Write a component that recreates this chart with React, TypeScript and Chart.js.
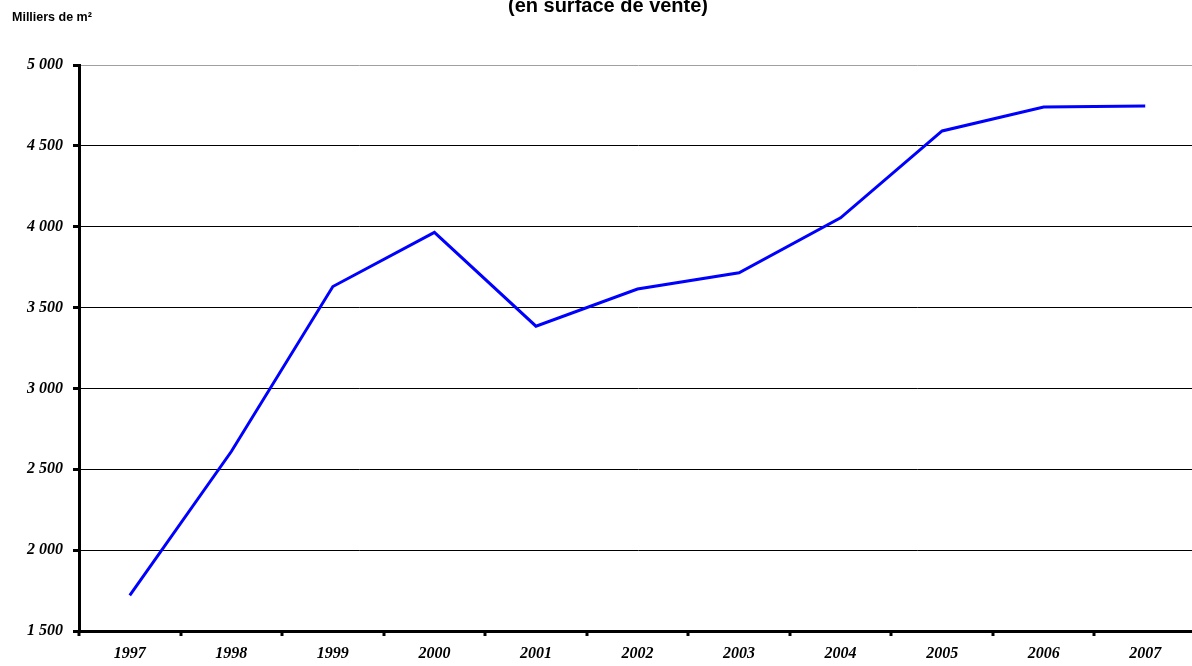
import React, { useEffect, useRef } from "react";
import { Chart, registerables } from "chart.js";

Chart.register(...registerables);

const years = ["1997", "1998", "1999", "2000", "2001", "2002", "2003", "2004", "2005", "2006", "2007"];
const surfaces = [1720, 2610, 3630, 3965, 3385, 3615, 3715, 4055, 4592, 4740, 4746];
const titleText = "(en surface de vente)";
const unitText = "Milliers de m²";
const yMin = 1500;
const yMax = 5000;
const yStep = 500;

const fmt = (v: number) => String(v).replace(/\B(?=(\d{3})+(?!\d))/g, " ");

const textPlugin = {
  id: "texts",
  afterDraw(chart: any) {
    const ctx = chart.ctx;
    ctx.save();
    ctx.fillStyle = "#000";
    ctx.textBaseline = "alphabetic";
    ctx.font = "bold 20px 'Liberation Sans', Arial, sans-serif";
    ctx.textAlign = "center";
    ctx.fillText(titleText, 608, 12);
    ctx.font = "bold 12.5px 'Liberation Sans', Arial, sans-serif";
    ctx.textAlign = "left";
    ctx.fillText(unitText, 12, 21);
    ctx.restore();
  },
};

export default function App() {
  const ref = useRef<HTMLCanvasElement>(null);
  useEffect(() => {
    if (!ref.current) return;
    const tickFont = { family: "'Liberation Serif', 'Times New Roman', serif", size: 16, style: "italic" as const, weight: "bold" as const };
    const chart = new Chart(ref.current, {
      type: "line",
      data: {
        labels: years,
        datasets: [
          {
            data: surfaces,
            borderColor: "#0000FF",
            borderWidth: 3,
            pointRadius: 0,
            tension: 0,
            fill: false,
          },
        ],
      },
      options: {
        responsive: false,
        animation: false,
        layout: { padding: { top: 65, right: 4, left: 0, bottom: 0 } },
        plugins: { legend: { display: false }, tooltip: { enabled: false }, title: { display: false } },
        scales: {
          x: {
            offset: true,
            grid: { display: true, offset: true, drawOnChartArea: false, drawTicks: true, tickLength: 5, color: "#000", lineWidth: 2, tickWidth: 3 },
            border: { display: true, color: "#000", width: 3 },
            ticks: { color: "#000", font: tickFont, padding: 8, maxRotation: 0 },
            afterFit: (s: any) => { s.height = 35; },
          },
          y: {
            min: yMin,
            max: yMax,
            grid: {
              color: (c: any) => (c.tick && c.tick.value === yMax ? "#a0a0a0" : "#000"),
              lineWidth: 1,
              drawTicks: true,
              tickLength: 6,
              tickColor: "#000",
              tickWidth: 3,
            },
            border: { display: true, color: "#000", width: 3 },
            ticks: { stepSize: yStep, color: "#000", font: tickFont, padding: 10, callback: (v: any) => fmt(Number(v)) },
            afterFit: (s: any) => { s.width = 79; },
          },
        },
      },
      plugins: [textPlugin],
    });
    return () => chart.destroy();
  }, []);
  return (
    <div style={{ position: "fixed", left: 0, top: 0, width: 1192, height: 666, overflow: "hidden", background: "#fff" }}>
      <canvas ref={ref} width={1200} height={666} style={{ display: "block" }} />
    </div>
  );
}
